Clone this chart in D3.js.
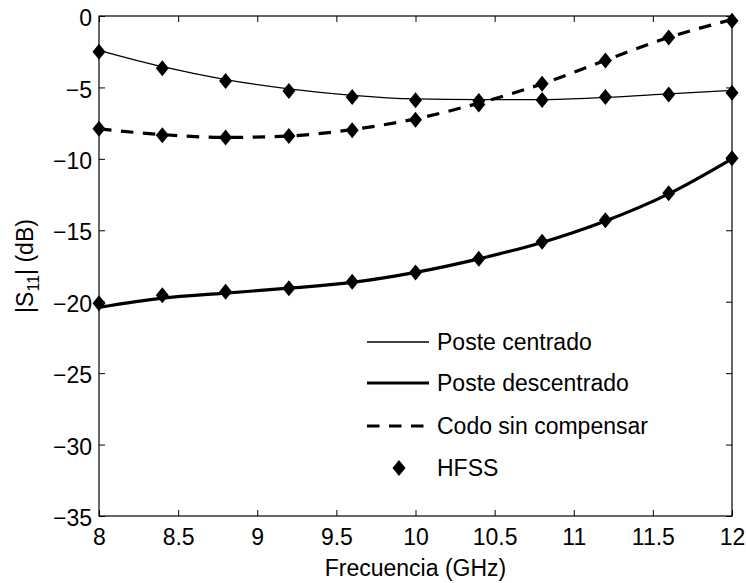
<!DOCTYPE html>
<html>
<head>
<meta charset="utf-8">
<script src="https://cdn.jsdelivr.net/npm/d3@7"></script>
<style>
  html, body { margin: 0; padding: 0; background: #fff; }
  svg { display: block; font-family: "Liberation Sans", Arial, sans-serif; }
</style>
</head>
<body>
<svg id="chart" width="746" height="583"></svg>
<script>
// Frequencies (GHz) of the simulated curves and HFSS samples
const freq = [8, 8.4, 8.8, 9.2, 9.6, 10, 10.4, 10.8, 11.2, 11.6, 12];

// |S11| (dB) curves
const posteCentrado    = [-2.4, -3.55, -4.45, -5.1, -5.55, -5.8, -5.85, -5.85, -5.7, -5.45, -5.2];
const posteDescentrado = [-20.4, -19.75, -19.4, -19.05, -18.65, -17.95, -17.0, -15.85, -14.35, -12.45, -10.0];
const codoSinComp      = [-7.9, -8.3, -8.5, -8.4, -7.95, -7.2, -6.1, -4.75, -3.1, -1.5, -0.25];

// HFSS samples
const hfssCentrado    = [-2.5, -3.65, -4.55, -5.25, -5.67, -5.9, -5.95, -5.88, -5.67, -5.5, -5.38];
const hfssDescentrado = [-20.1, -19.55, -19.3, -19.05, -18.6, -17.95, -17.0, -15.8, -14.3, -12.4, -9.95];
const hfssCodo        = [-7.9, -8.35, -8.5, -8.4, -8.0, -7.27, -6.2, -4.75, -3.12, -1.5, -0.33];

const xTicks = [8, 8.5, 9, 9.5, 10, 10.5, 11, 11.5, 12];
const yTicks = [0, -5, -10, -15, -20, -25, -30, -35];

const legendLabels = ["Poste centrado", "Poste descentrado", "Codo sin compensar", "HFSS"];

const svg = d3.select("#chart");
const m = { left: 99, right: 732, top: 16, bottom: 516 };

const x = d3.scaleLinear().domain([8, 12]).range([m.left, m.right]);
const y = d3.scaleLinear().domain([-35, 0]).range([m.bottom, m.top]);

const fmt = d => String(d).replace("-", "\u2212");
const tickLen = 6;
const fontSize = 23;
const fontFamily = "Liberation Sans, Arial, sans-serif";

// axes with inward ticks on all four sides
const axisG = svg.append("g").attr("class", "axes");
axisG.append("g").attr("transform", `translate(0,${m.bottom})`)
  .call(d3.axisBottom(x).tickValues(xTicks).tickSizeInner(-tickLen).tickSizeOuter(0).tickPadding(13).tickFormat(fmt));
axisG.append("g").attr("transform", `translate(0,${m.top})`)
  .call(d3.axisTop(x).tickValues(xTicks).tickSizeInner(-tickLen).tickSizeOuter(0).tickFormat(""));
const yAxisG = axisG.append("g").attr("transform", `translate(${m.left},0)`)
  .call(d3.axisLeft(y).tickValues(yTicks).tickSizeInner(-tickLen).tickSizeOuter(0).tickPadding(7).tickFormat(fmt));
yAxisG.selectAll(".tick text").attr("dy", "0.42em");
axisG.append("g").attr("transform", `translate(${m.right},0)`)
  .call(d3.axisRight(y).tickValues(yTicks).tickSizeInner(-tickLen).tickSizeOuter(0).tickFormat(""));
axisG.selectAll(".domain").remove();
axisG.selectAll("g").attr("font-size", fontSize).attr("font-family", fontFamily);
axisG.selectAll(".tick line").attr("stroke", "#000").attr("stroke-width", 1);
axisG.selectAll(".tick text").attr("fill", "#000");

// frame
svg.append("rect")
  .attr("x", m.left).attr("y", m.top)
  .attr("width", m.right - m.left).attr("height", m.bottom - m.top)
  .attr("fill", "none").attr("stroke", "#000").attr("stroke-width", 1.2);

// curves
const line = d3.line().x(d => x(d[0])).y(d => y(d[1])).curve(d3.curveMonotoneX);
const series = [
  { vals: posteCentrado, width: 1.3, dash: null },
  { vals: posteDescentrado, width: 3.2, dash: null },
  { vals: codoSinComp, width: 3.2, dash: "12.5,9.5" }
];
const plot = svg.append("g");
series.forEach(s => {
  plot.append("path")
    .datum(freq.map((f, i) => [f, s.vals[i]]))
    .attr("d", line)
    .attr("fill", "none")
    .attr("stroke", "#000")
    .attr("stroke-width", s.width)
    .attr("stroke-dasharray", s.dash);
});

// HFSS diamonds
const diamond = (cx, cy, w = 6.5, h = 8) =>
  `M${cx},${cy - h}L${cx + w},${cy}L${cx},${cy + h}L${cx - w},${cy}Z`;
[hfssCentrado, hfssDescentrado, hfssCodo].forEach(vals => {
  plot.selectAll(null)
    .data(freq.map((f, i) => [f, vals[i]]))
    .enter().append("path")
    .attr("d", d => diamond(x(d[0]), y(d[1])))
    .attr("fill", "#000");
});

// legend
const legY = [342, 383, 426, 468];
const leg = svg.append("g");
series.forEach((s, i) => {
  leg.append("line")
    .attr("x1", 367).attr("x2", 429)
    .attr("y1", legY[i]).attr("y2", legY[i])
    .attr("stroke", "#000").attr("stroke-width", s.width)
    .attr("stroke-dasharray", s.dash);
});
leg.append("path").attr("d", diamond(399, legY[3])).attr("fill", "#000");
legendLabels.forEach((t, i) => {
  leg.append("text")
    .attr("x", 437).attr("y", legY[i] + 8)
    .attr("font-size", fontSize).attr("fill", "#000")
    .text(t);
});

// axis titles
svg.append("text")
  .attr("x", (m.left + m.right) / 2).attr("y", 576)
  .attr("text-anchor", "middle").attr("font-size", fontSize)
  .text("Frecuencia (GHz)");

const yl = svg.append("text")
  .attr("transform", `translate(33,${(m.top + m.bottom) / 2}) rotate(-90)`)
  .attr("text-anchor", "middle").attr("font-size", fontSize);
yl.append("tspan").text("|S");
yl.append("tspan").attr("font-size", 16).attr("dy", 6).text("11");
yl.append("tspan").attr("dy", -6).text("| (dB)");
</script>
</body>
</html>
